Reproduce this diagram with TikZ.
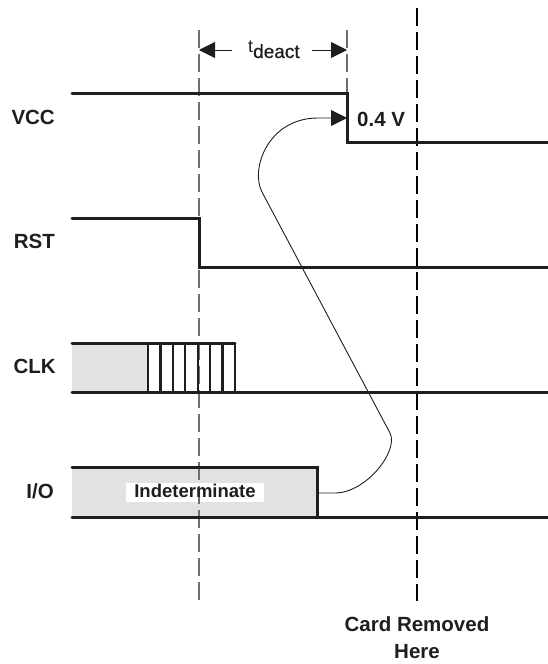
\documentclass[tikz,border=0pt]{standalone}
\usepackage{fontspec}
\setmainfont{Liberation Sans}
\usetikzlibrary{arrows.meta}
\definecolor{sigcol}{RGB}{30,30,30}
\definecolor{guidegray}{RGB}{110,110,110}
\definecolor{fillgray}{RGB}{225,226,228}
\begin{document}
\begin{tikzpicture}[x=1pt,y=-1pt,
  sig/.style={line width=3pt, line cap=round, line join=miter, draw=sigcol},
  tick/.style={line width=2.4pt, draw=sigcol},
  guide/.style={line width=1.1pt, dash pattern=on 18pt off 6pt},
  thin/.style={line width=0.9pt, draw=sigcol},
  tip/.style={-{Triangle[length=16pt,width=16pt]}},
  lbl/.style={font=\fontsize{20.5}{24}\selectfont\bfseries, inner sep=0pt, text=sigcol},
]
\useasboundingbox (0,0) rectangle (548,664);

% fills
\fill[fillgray] (72,343) rectangle (148,392);
\fill[fillgray] (72,467) rectangle (317,517);
\node[fill=white, minimum width=138pt, minimum height=19pt, inner sep=0pt] (indbox) at (195,492.5) {};

% guide lines
\coordinate (g1t) at (199,30);  \coordinate (g1b) at (199,601);
\coordinate (g2t) at (347,30);  \coordinate (g2b) at (347,93);
\coordinate (g3t) at (417,8);   \coordinate (g3b) at (417,601);
\draw[guide, guidegray] (g1t) -- (g1b);
\draw[guide, guidegray] (g2t) -- (g2b);
\draw[guide, black] (g3t) -- (g3b);

% VCC
\draw[sig] (72,93) -- (347,93) -- (347,142) -- (548,142);
% RST
\draw[sig] (72,218) -- (199,218) -- (199,267) -- (548,267);
% CLK
\draw[sig] (72,343) -- (235,343);
\draw[sig] (72,392) -- (548,392);
\foreach \i in {0,...,7} \draw[tick] (148+\i*12.43,343) -- (148+\i*12.43,392);
% I/O
\draw[sig] (72,467) -- (317,467) -- (317,517);
\draw[sig] (72,517) -- (548,517);

% labels
\node[lbl, anchor=base east] (vcc) at (55,124) {VCC};
\node[lbl, anchor=base east] (rst) at (55,248) {RST};
\node[lbl, anchor=base east] (clk) at (56,373) {CLK};
\node[lbl, anchor=base east] (io) at (54,498) {I/O};
\node[lbl, anchor=base west] (volt) at (357,126) {0.4 V};
\node[inner sep=0pt, anchor=base, font=\fontsize{18.5}{22}\selectfont\bfseries, text=sigcol] (ind) at (195,497) {Indeterminate};
\node[lbl, anchor=north, align=center, font=\fontsize{20.5}{27}\selectfont\bfseries] (card) at (417,616) {Card Removed\\Here};

% t_deact
\node[inner sep=0pt, text=sigcol, anchor=base west] (tdeact) at (248,52) {\fontsize{18}{20}\selectfont t\raisebox{-6pt}{\fontsize{19}{20}\selectfont\addfontfeature{FakeBold=0.6}deact}};
\coordinate (ta) at (232,50); \coordinate (tal) at (199,50);
\coordinate (tb) at (312,50); \coordinate (tbr) at (347,50);
\draw[thin, tip] (ta) -- (tal);
\draw[thin, tip] (tb) -- (tbr);

% curve from I/O to VCC
\coordinate (iostart) at (317,493);
\coordinate (vccend) at (347,118);
\draw[thin, tip] (iostart) -- (335,493) .. controls (366,493) and (399,451) .. (390,433)
  -- (262,192) .. controls (250,169) and (268,118) .. (318,118) -- (vccend);
\end{tikzpicture}
\end{document}
